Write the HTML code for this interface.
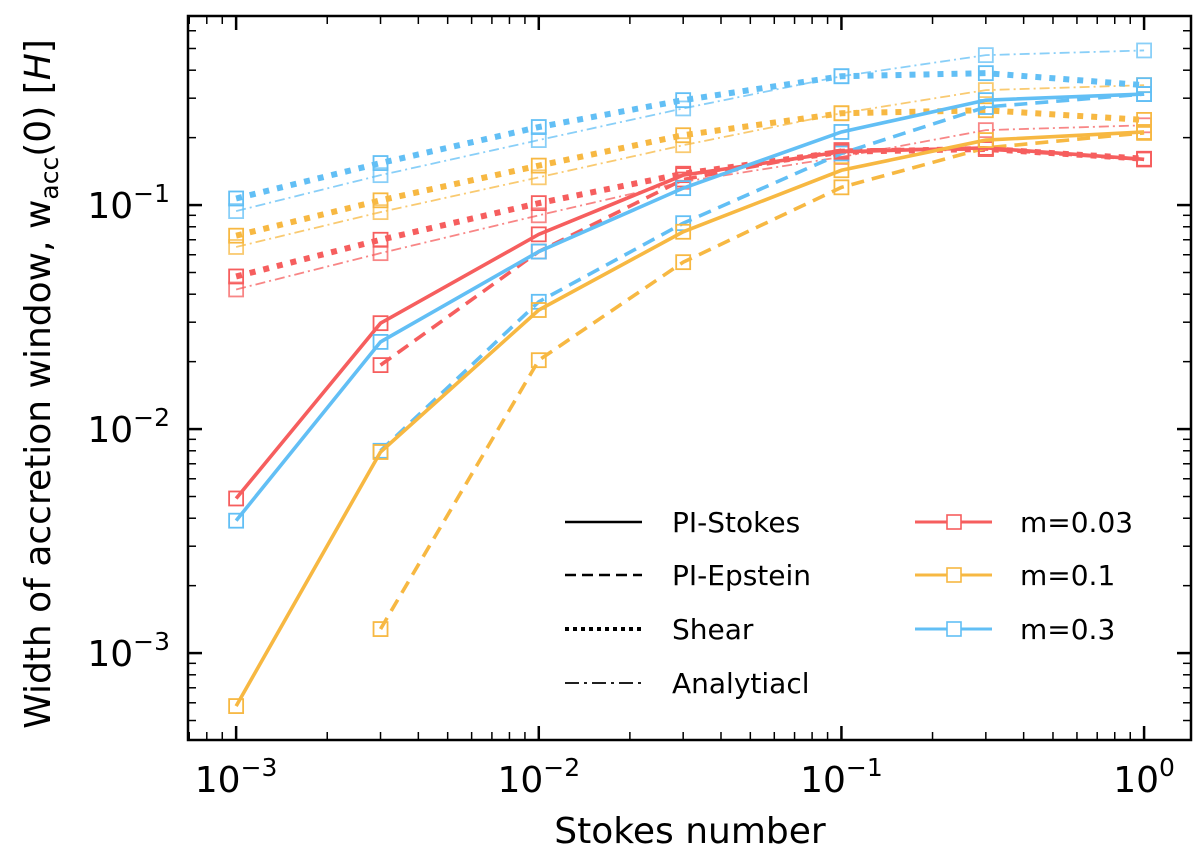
<!DOCTYPE html>
<html><head><meta charset="utf-8"><style>
html,body{margin:0;padding:0;background:#fff;}
svg text{font-family:"DejaVu Sans","Liberation Sans",sans-serif;}
</style></head><body>
<svg id="chart" width="1200" height="857" viewBox="0 0 1200 857" xmlns="http://www.w3.org/2000/svg">
<g id="marks"></g>
<g id="axes"></g>
<text x="690" y="843" font-size="36" text-anchor="middle">Stokes number</text>
<text transform="translate(50,384) rotate(-90)" font-size="36" text-anchor="middle">Width of accretion window, w<tspan font-size="25" dy="8">acc</tspan><tspan dy="-8">(0) [</tspan><tspan font-style="italic">H</tspan>]</text>
<g id="legend"></g>
</svg>
<script>
const stokes = [0.001, 0.003, 0.01, 0.03, 0.1, 0.3, 1];
const masses = ["m=0.03", "m=0.1", "m=0.3"];
const methods = ["PI-Stokes", "PI-Epstein", "Shear", "Analytiacl"];
const red_stokes   = [0.0049, 0.0297, 0.074, 0.136, 0.173, 0.18, 0.16];
const red_epstein  = [null, 0.0193, 0.062, 0.13, 0.176, 0.178, 0.16];
const red_shear    = [0.048, 0.07, 0.102, 0.138, 0.173, 0.178, 0.161];
const red_analytic = [0.042, 0.061, 0.09, 0.127, 0.164, 0.216, 0.227];
const org_stokes   = [0.00058, 0.0079, 0.034, 0.076, 0.143, 0.195, 0.212];
const org_epstein  = [null, 0.00128, 0.0203, 0.0556, 0.12, 0.18, 0.21];
const org_shear    = [0.073, 0.105, 0.15, 0.205, 0.257, 0.265, 0.24];
const org_analytic = [0.065, 0.093, 0.133, 0.185, 0.257, 0.326, 0.343];
const blu_stokes   = [0.0039, 0.0245, 0.062, 0.119, 0.212, 0.294, 0.313];
const blu_epstein  = [null, 0.008, 0.037, 0.083, 0.17, 0.274, 0.313];
const blu_shear    = [0.107, 0.154, 0.223, 0.294, 0.376, 0.388, 0.343];
const blu_analytic = [0.094, 0.136, 0.195, 0.27, 0.376, 0.467, 0.49];
const xTickExps = [-3, -2, -1, 0];
const yTickExps = [-3, -2, -1];

const NS = "http://www.w3.org/2000/svg";
const L = 188, R = 1191, T = 16, B = 740;
const xmin = -3.159, xmax = 0.155, ymin = -3.388, ymax = -0.156;
function xs(v){ return L + (Math.log10(v) - xmin) / (xmax - xmin) * (R - L); }
function ys(v){ return B - (Math.log10(v) - ymin) / (ymax - ymin) * (B - T); }
function mk(tag, attrs, parent){ const e = document.createElementNS(NS, tag); for (const k in attrs) e.setAttribute(k, attrs[k]); parent.appendChild(e); return e; }

const colors = ["#f65e5e", "#f7b842", "#62bff5"];
const styles = [
  {w:3.6, dash:"", op:1},
  {w:3.6, dash:"13 8", op:1},
  {w:6, dash:"6 8", op:1},
  {w:1.8, dash:"10 4 2 4", op:0.75}
];
const seriesSet = [
  [red_stokes, red_epstein, red_shear, red_analytic],
  [org_stokes, org_epstein, org_shear, org_analytic],
  [blu_stokes, blu_epstein, blu_shear, blu_analytic]
];
const marks = document.getElementById("marks");
const order = [3,2,1,0];
for (const s of order) for (let c = 0; c < 3; c++) {
  const vals = seriesSet[c][s];
  let pts = [];
  vals.forEach((v, i) => { if (v != null) pts.push([xs(stokes[i]), ys(v)]); });
  const g = mk("g", {}, marks);
  
  
  const pl = mk("polyline", {points: pts.map(p => p.join(",")).join(" "), fill: "none", stroke: colors[c], "stroke-width": styles[s].w, "stroke-dasharray": styles[s].dash, opacity: styles[s].op}, g);
  
  
  pts.forEach(p => {
    const r = mk("rect", {x: p[0]-7, y: p[1]-7, width: 14, height: 14, fill: "none", stroke: colors[c], "stroke-width": 1.8, opacity: s===3?0.75:1}, g);
    
    
  });
}

const axes = document.getElementById("axes");
mk("rect", {x: L, y: T, width: R-L, height: B-T, fill: "none", stroke: "#000", "stroke-width": 2.5}, axes);
for (let e = -4; e <= 1; e++) for (let m = 1; m <= 9; m++) {
  const v = m * Math.pow(10, e);
  const lv = Math.log10(v);
  const major = m === 1;
  const len = major ? 14 : 8;
  if (lv > xmin && lv < xmax) {
    const x = xs(v);
    mk("line", {x1:x, y1:B, x2:x, y2:B-len, stroke:"#000", "stroke-width": major?2.5:1.5}, axes);
    mk("line", {x1:x, y1:T, x2:x, y2:T+len, stroke:"#000", "stroke-width": major?2.5:1.5}, axes);
  }
  if (lv > ymin && lv < ymax) {
    const y = ys(v);
    mk("line", {x1:L, y1:y, x2:L+len, y2:y, stroke:"#000", "stroke-width": major?2.5:1.5}, axes);
    mk("line", {x1:R, y1:y, x2:R-len, y2:y, stroke:"#000", "stroke-width": major?2.5:1.5}, axes);
  }
}
xTickExps.forEach(e => {
  const t = mk("text", {x: xs(Math.pow(10,e)), y: 792, "font-size": 36, "text-anchor": "middle"}, axes);
  
  
  t.innerHTML = '10<tspan font-size="25" dy="-16">' + (e < 0 ? '\u2212' + (-e) : e) + '</tspan>';
});
yTickExps.forEach(e => {
  const t = mk("text", {x: 170, y: ys(Math.pow(10,e)) + 13, "font-size": 36, "text-anchor": "end"}, axes);
  
  
  t.innerHTML = '10<tspan font-size="25" dy="-16">\u2212' + (-e) + '</tspan>';
});

const legend = document.getElementById("legend");
const rowY = [522, 575, 629, 683];
methods.forEach((name, i) => {
  const g = mk("g", {}, legend);
  
  
  mk("line", {x1:565, y1:rowY[i], x2:642, y2:rowY[i], stroke:"#000", "stroke-width": i===3?1.8:(i===2?4:2.5), "stroke-dasharray": i===0?"":(i===1?"11 6":(i===2?"4 4":"14 5 3 5"))}, g);
  const t = mk("text", {x: 672, y: rowY[i]+10, "font-size": 28}, g);
  t.textContent = name;
});
masses.forEach((name, i) => {
  const g = mk("g", {}, legend);
  
  
  mk("line", {x1:915, y1:rowY[i], x2:992, y2:rowY[i], stroke:colors[i], "stroke-width": 3}, g);
  mk("rect", {x:947, y:rowY[i]-7, width:14, height:14, fill:"#fff", stroke:colors[i], "stroke-width":1.6}, g);
  const t = mk("text", {x: 1020, y: rowY[i]+10, "font-size": 28}, g);
  t.textContent = name;
});
</script>
</body></html>
